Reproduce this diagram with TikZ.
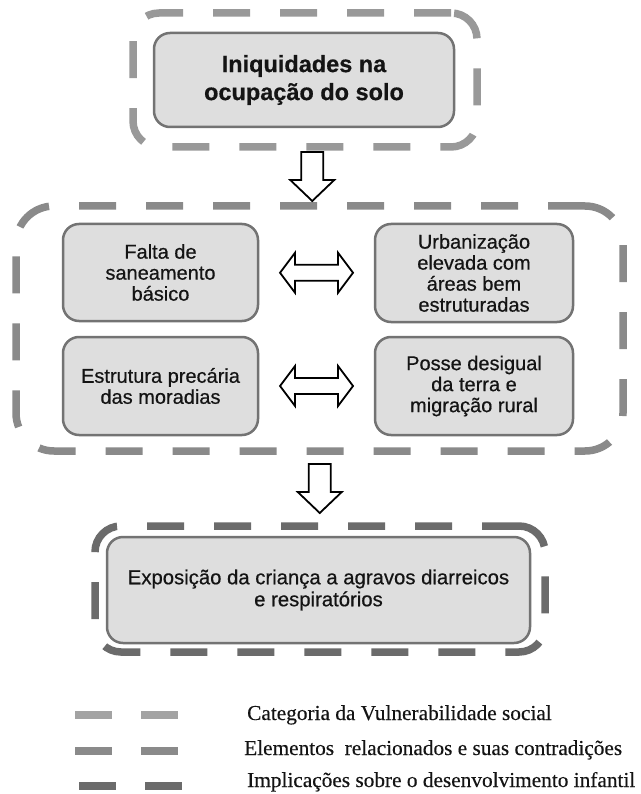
\documentclass[tikz,border=0pt]{standalone}
\usepackage{fontspec}
\setmainfont{Liberation Serif}
\newfontfamily\boxfont[FakeBold=0.5]{Liberation Sans}
\newfontfamily\legfont[FakeBold=0.3]{Liberation Serif}
\usetikzlibrary{calc}
\definecolor{dashA}{gray}{0.60}
\definecolor{dashB}{gray}{0.54}
\definecolor{dashC}{gray}{0.42}
\definecolor{boxfill}{gray}{0.87}
\definecolor{boxline}{gray}{0.45}
\definecolor{txt}{gray}{0.08}
\tikzset{
  inbox/.style={draw=boxline, line width=2.5pt, fill=boxfill, rounded corners=16pt,
    align=center, text=txt, inner sep=0pt},
  outbox/.style={draw=#1, line width=7.5pt, rounded corners=26pt,
    dash pattern=on 37pt off 30pt, inner sep=0pt},
  midfont/.style={font=\boxfont\fontsize{20}{21}\selectfont},
  blockarrow/.style={draw=black, line width=1.8pt, fill=white, line join=miter},
  legline/.style={draw=#1, line width=8pt, dash pattern=on 37pt off 29pt},
  legtext/.style={anchor=base west, inner sep=0pt, text=txt, font=\legfont\fontsize{21.3}{24}\selectfont},
  downarr/.pic={\draw[blockarrow] (-11,-24.5) -- (11,-24.5) -- (11,3.5) -- (22,3.5)
      -- (0,24.5) -- (-22,3.5) -- (-11,3.5) -- cycle;},
  dblarr/.pic={\draw[blockarrow] (-36.5,0) -- (-21.5,-20) -- (-21.5,-8) -- (21.5,-8)
      -- (21.5,-20) -- (36.5,0) -- (21.5,20) -- (21.5,8) -- (-21.5,8) -- (-21.5,20) -- cycle;}
}
\begin{document}
\begin{tikzpicture}[x=1pt,y=-1pt]
\useasboundingbox[fill=white] (0,0) rectangle (640,794);

% top group
\node[outbox=dashA, minimum width=344pt, minimum height=134pt] (o1) at (305,80) {};
\node[inbox, minimum width=300pt, minimum height=94pt,
  font=\boxfont\bfseries\fontsize{23.5}{28}\selectfont] (top) at (304,80)
  {Iniquidades na\\ocupação do solo};

% middle group
\node[outbox=dashB, rounded corners=38pt, minimum width=607pt, minimum height=245pt] (o2) at (319.5,328.5) {};
\node[inbox, midfont, minimum width=195pt, minimum height=97pt] (tl) at (160.5,272.5)
  {Falta de\\saneamento\\básico};
\node[inbox, midfont, minimum width=198pt, minimum height=98pt] (tr) at (474,273)
  {Urbanização\\elevada com\\áreas bem\\estruturadas};
\node[inbox, midfont, minimum width=195pt, minimum height=98pt] (bl) at (160.5,386)
  {Estrutura precária\\das moradias};
\node[inbox, midfont, minimum width=198pt, minimum height=98pt] (br) at (474,386)
  {Posse desigual\\da terra e\\migração rural};

% bottom group
\node[outbox=dashC, minimum width=450pt, minimum height=126pt] (o3) at (320,589) {};
\node[inbox, minimum width=423pt, minimum height=106pt,
  font=\boxfont\fontsize{20.3}{22}\selectfont] (bot) at (318.5,590)
  {Exposição da criança a agravos diarreicos\\e respiratórios};

% arrows
\pic at ($(o1.south)!0.5!(o2.north)$) {downarr};
\pic at ($(o2.south)!0.5!(o3.north)$) {downarr};
\pic at ($(tl.east)!0.5!(tr.west)$) {dblarr};
\pic at ($(bl.east)!0.5!(br.west)$) {dblarr};

% legend
\coordinate (la1) at (75,715);  \coordinate (la2) at (180,715);
\coordinate (lb1) at (75,751);  \coordinate (lb2) at (180,751);
\coordinate (lc1) at (79,786);  \coordinate (lc2) at (185,786);
\draw[legline=dashA!90!white] (la1) -- (la2);
\draw[legline=dashB] (lb1) -- (lb2);
\draw[legline=dashC] (lc1) -- (lc2);
\node[legtext] (ta) at (247,720) {Categoria da Vulnerabilidade social};
\node[legtext] (tb) at (244,755) {Elementos~ relacionados e suas contradições};
\node[legtext] (tc) at (247,787) {Implicações sobre o desenvolvimento infantil};
\end{tikzpicture}
\end{document}
